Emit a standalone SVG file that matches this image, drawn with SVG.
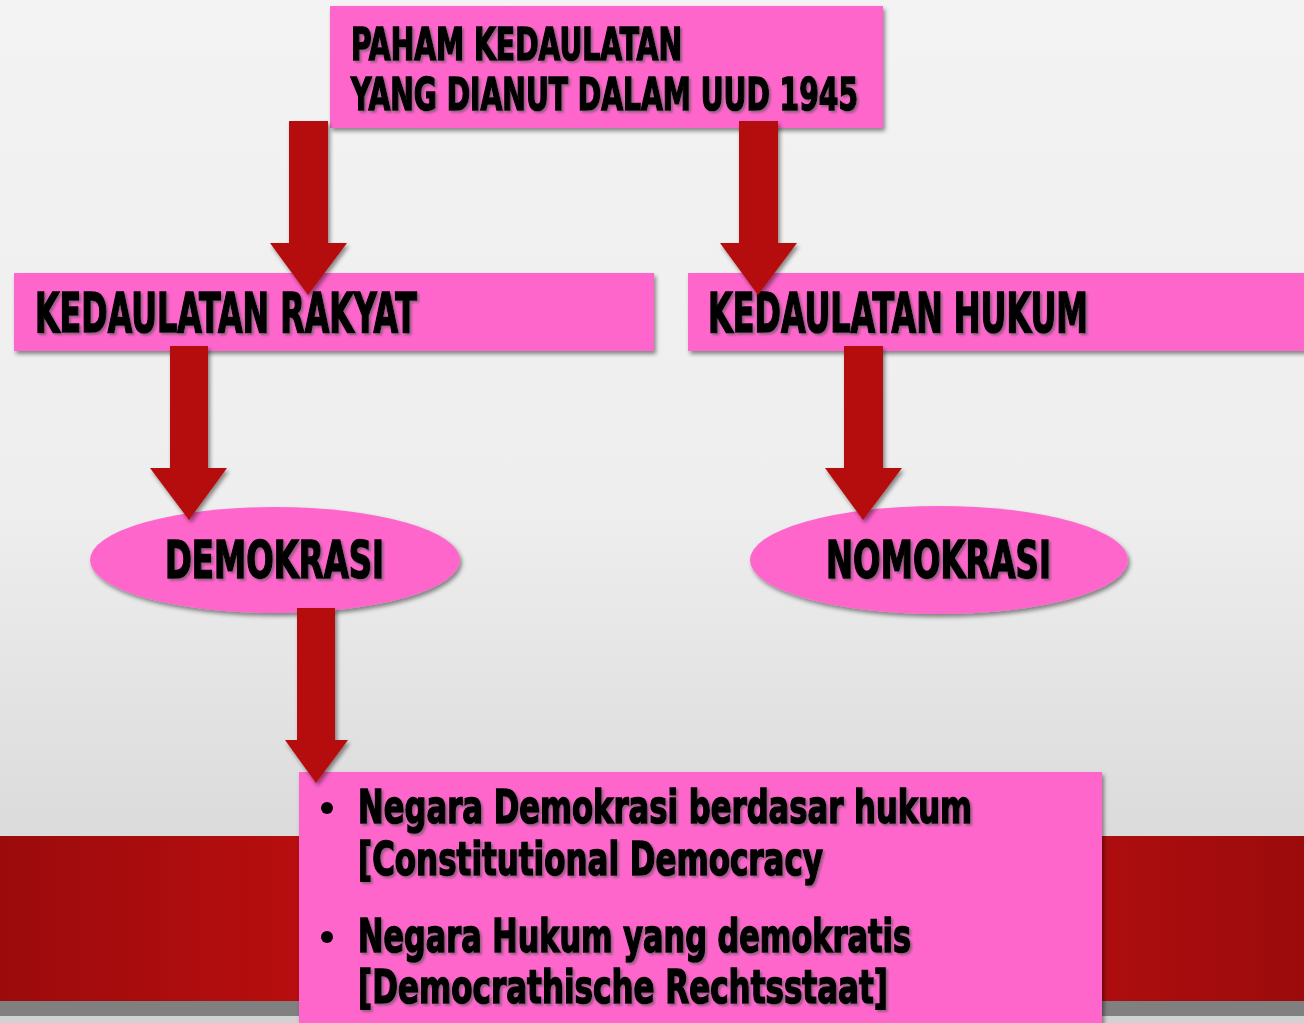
<svg xmlns="http://www.w3.org/2000/svg" width="1304" height="1023" viewBox="0 0 1304 1023">
<defs>
  <linearGradient id="bg" x1="0" y1="0" x2="0" y2="1">
    <stop offset="0" stop-color="#f3f3f3"/>
    <stop offset="0.5" stop-color="#eeeeee"/>
    <stop offset="0.8" stop-color="#dcdcdc"/>
    <stop offset="1" stop-color="#d6d6d6"/>
  </linearGradient>
  <linearGradient id="band" x1="0" y1="0" x2="1" y2="0">
    <stop offset="0" stop-color="#9c0b0c"/>
    <stop offset="0.25" stop-color="#ba0e0f"/>
    <stop offset="0.8" stop-color="#b30e0f"/>
    <stop offset="1" stop-color="#9c0b0c"/>
  </linearGradient>
  <filter id="sh" x="-5%" y="-10%" width="115%" height="130%">
    <feDropShadow dx="2" dy="3" stdDeviation="2" flood-color="#000" flood-opacity="0.45"/>
  </filter>
  <filter id="tsh" x="-5%" y="-10%" width="115%" height="130%">
    <feDropShadow dx="2" dy="2" stdDeviation="1.2" flood-color="#555" flood-opacity="0.6"/>
  </filter>
</defs>
<style>
  .box { fill: #ff66cc; filter: url(#sh); }
  .arrow { fill: #b50e0f; filter: url(#sh); }
  .t { font-family: "Liberation Sans Narrow", "DejaVu Sans Condensed", "Liberation Sans", sans-serif; font-weight: bold; fill: #000; stroke: #000; stroke-width: 1.6; filter: url(#tsh); }
  .bul { fill: #000; }
</style>
<rect x="0" y="0" width="1304" height="1023" fill="url(#bg)"/>
<rect x="0" y="836" width="1304" height="165" fill="url(#band)"/>
<rect x="0" y="1001" width="1304" height="15" fill="#808080"/>
<rect x="0" y="1016" width="1304" height="7" fill="#d2d2d2"/>

<g id="node-paham">
  <rect class="box" x="330" y="6" width="553" height="122"/>
  <text class="t" x="351" y="60" font-size="44" textLength="331" lengthAdjust="spacingAndGlyphs">PAHAM KEDAULATAN</text>
  <text class="t" x="351" y="110" font-size="44" textLength="507" lengthAdjust="spacingAndGlyphs">YANG DIANUT DALAM UUD 1945</text>
</g>

<g id="node-rakyat">
  <rect class="box" x="14" y="273" width="640" height="78"/>
  <text class="t" x="35" y="332" font-size="55" textLength="382" lengthAdjust="spacingAndGlyphs">KEDAULATAN RAKYAT</text>
</g>

<g id="node-hukum">
  <rect class="box" x="688" y="273" width="620" height="78"/>
  <text class="t" x="708" y="332" font-size="55" textLength="380" lengthAdjust="spacingAndGlyphs">KEDAULATAN HUKUM</text>
</g>

<g id="node-demokrasi">
  <ellipse class="box" cx="275" cy="560" rx="185" ry="53"/>
  <text class="t" x="165" y="578" font-size="51" textLength="219" lengthAdjust="spacingAndGlyphs">DEMOKRASI</text>
</g>

<g id="node-nomokrasi">
  <ellipse class="box" cx="939" cy="560" rx="189" ry="54"/>
  <text class="t" x="826" y="578" font-size="51" textLength="225" lengthAdjust="spacingAndGlyphs">NOMOKRASI</text>
</g>

<g id="node-negara">
  <rect class="box" x="299" y="772" width="803" height="260"/>
  <circle class="bul" cx="327" cy="808" r="6"/>
  <text class="t" x="358" y="823" font-size="46" textLength="614" lengthAdjust="spacingAndGlyphs">Negara Demokrasi berdasar hukum</text>
  <text class="t" x="358" y="875" font-size="46" textLength="465" lengthAdjust="spacingAndGlyphs">[Constitutional Democracy</text>
  <circle class="bul" cx="327" cy="937" r="6"/>
  <text class="t" x="358" y="952" font-size="46" textLength="553" lengthAdjust="spacingAndGlyphs">Negara Hukum yang demokratis</text>
  <text class="t" x="358" y="1003" font-size="46" textLength="530" lengthAdjust="spacingAndGlyphs">[Democrathische Rechtsstaat]</text>
</g>

<g id="connectors">
  <polygon class="arrow" points="289,121 328,121 328,243 347,243 308,295 270,243 289,243"/>
  <polygon class="arrow" points="739,121 778,121 778,243 797,243 758,295 720,243 739,243"/>
  <polygon class="arrow" points="170,346 208,346 208,468 227,468 189,520 150,468 170,468"/>
  <polygon class="arrow" points="844,346 883,346 883,468 902,468 863,520 825,468 844,468"/>
  <polygon class="arrow" points="297,608 335,608 335,740 348,740 316,783 285,740 297,740"/>
</g>
</svg>
